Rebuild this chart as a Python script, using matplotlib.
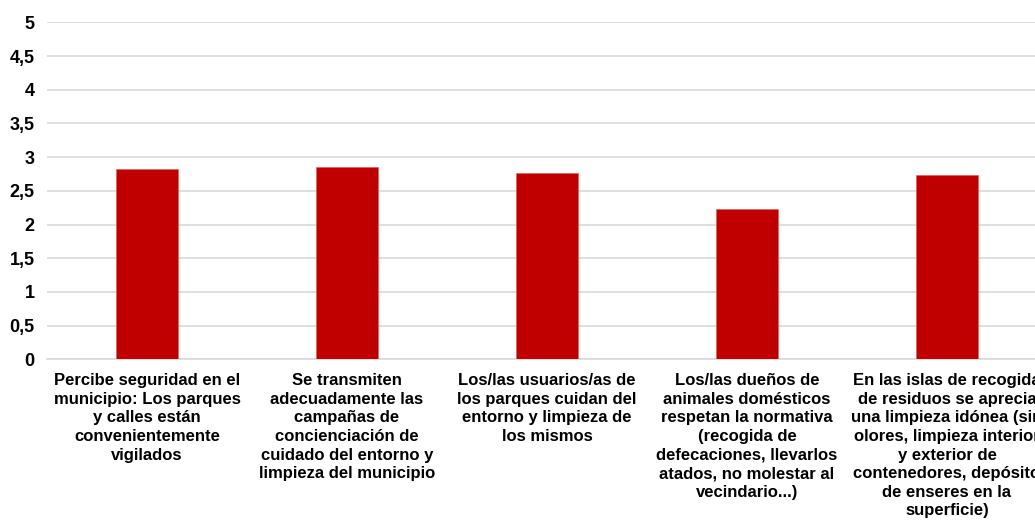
import matplotlib
matplotlib.use("Agg")
import matplotlib.pyplot as plt
import numpy as np

categories = [
    "Percibe seguridad en el\nmunicipio: Los parques\ny calles están\nconvenientemente\nvigilados",
    "Se transmiten\nadecuadamente las\ncampañas de\nconcienciación de\ncuidado del entorno y\nlimpieza del municipio",
    "Los/las usuarios/as de\nlos parques cuidan del\nentorno y limpieza de\nlos mismos",
    "Los/las dueños de\nanimales domésticos\nrespetan la normativa\n(recogida de\ndefecaciones, llevarlos\natados, no molestar al\nvecindario...)",
    "En las islas de recogida\nde residuos se aprecia\nuna limpieza idónea (sin\nolores, limpieza interior\ny exterior de\ncontenedores, depósito\nde enseres en la\nsuperficie)",
]
values = [2.82, 2.86, 2.77, 2.23, 2.74]
yticks = [0, 0.5, 1, 1.5, 2, 2.5, 3, 3.5, 4, 4.5, 5]
ytick_labels = ["0", "0,5", "1", "1,5", "2", "2,5", "3", "3,5", "4", "4,5", "5"]

plt.rcParams['font.family'] = ['Liberation Sans', 'DejaVu Sans']

fig = plt.figure(figsize=(10.35, 5.25), dpi=100)
ax = fig.add_axes([47/1035, 1 - 359.3/525, 1000/1035, (359.3 - 22.3)/525])

x = np.arange(len(values))
ax.bar(x, values, width=0.31, color="#c00000", edgecolor="#e06060", linewidth=0.5, zorder=3)

ax.set_xlim(-0.5, len(values) - 0.5)
ax.set_ylim(0, 5)
ax.set_yticks(yticks)
ax.set_yticklabels(ytick_labels, fontsize=13, fontweight="bold")
ax.set_xticks(x)
ax.set_xticklabels(categories, fontsize=12, fontweight="bold", linespacing=1.3)
ax.tick_params(axis="both", length=0)
ax.tick_params(axis="y", pad=9)
ax.tick_params(axis="x", pad=10)

ax.grid(axis="y", color="#d9d9d9", linewidth=1.2, zorder=0)
for s in ["top", "right", "left"]:
    ax.spines[s].set_visible(False)
ax.spines["bottom"].set_color("#d9d9d9")
ax.spines["bottom"].set_linewidth(1.2)

fig.savefig("out.png", dpi=100)
